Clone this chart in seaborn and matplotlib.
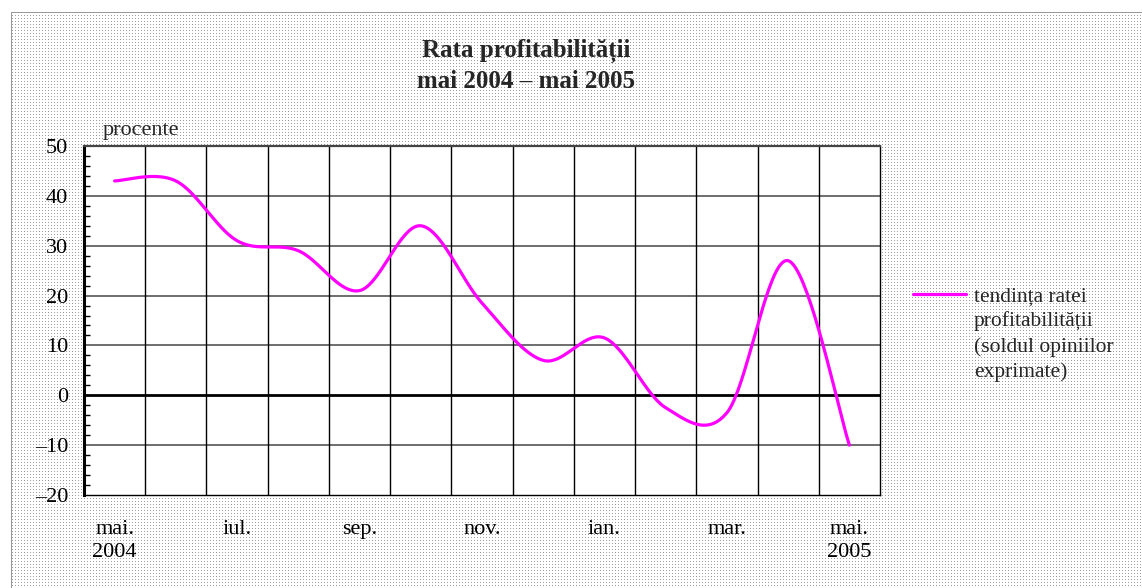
import numpy as np
import pandas as pd
import matplotlib
matplotlib.use("Agg")
import matplotlib.pyplot as plt
import seaborn as sns
from matplotlib.ticker import FixedLocator, MultipleLocator

# ---------------- data ----------------
months = ["mai.\n2004", "iun.", "iul.", "aug.", "sep.", "oct.", "nov.", "dec.",
          "ian.", "feb.", "mar.", "apr.", "mai.\n2005"]
values = [43, 43, 31, 29, 21, 34, 18.5, 7, 11.5, -2.5, -3.5, 27, -10]
shown_tick_idx = [0, 2, 4, 6, 8, 10, 12]
y_ticks = [50, 40, 30, 20, 10, 0, -10, -20]
y_tick_labels = ["50", "40", "30", "20", "10", "0", "\u201310", "\u201320"]
title = "Rata profitabilității\nmai 2004 \u2013 mai 2005"
unit_label = "procente"
legend_lines = ["tendința ratei", "profitabilității", "(soldul opiniilor", "exprimate)"]

# ---------------- style ----------------
sns.set_theme(style="white")
plt.rcParams["font.family"] = ["Liberation Serif", "DejaVu Serif"]

W, H, DPI = 1142, 588, 100
FS = 16
fig = plt.figure(figsize=(W / DPI, H / DPI), dpi=DPI)
fig.patch.set_facecolor("white")

# dotted background (like the original chart area fill)
bg = np.ones((H, W, 3))
yy, xx = np.mgrid[0:H, 0:W]
dots = (yy % 3 == 0) & (xx % 3 == 0) & (yy > 12) & (xx > 11)
bg[dots] = 0.62
bg[12, 11:] = 0.6
bg[12:, 11] = 0.6
fig.figimage(bg, xo=0, yo=0, origin="upper", zorder=-5)

ax = fig.add_axes([84 / W, 1 - 495 / H, (880 - 84) / W, (495 - 146) / H])
ax.set_facecolor("white")
ax.set_zorder(1)

# Excel-style smoothed line through data points (Catmull-Rom / Bezier)
def smooth(xv, yv, n=40):
    pts = np.column_stack([xv, yv]).astype(float)
    out = []
    for i in range(len(pts) - 1):
        p0 = pts[i - 1] if i > 0 else pts[i]
        p1, p2 = pts[i], pts[i + 1]
        p3 = pts[i + 2] if i + 2 < len(pts) else pts[i + 1]
        c1 = p1 + (p2 - p0) / 6
        c2 = p2 - (p3 - p1) / 6
        t = np.linspace(0, 1, n)[:, None]
        seg = (1 - t) ** 3 * p1 + 3 * (1 - t) ** 2 * t * c1 + 3 * (1 - t) * t ** 2 * c2 + t ** 3 * p2
        out.append(seg if i == 0 else seg[1:])
    return np.vstack(out)

xpos = np.arange(len(months))
curve = smooth(xpos, values)
df = pd.DataFrame({"x": curve[:, 0], "y": curve[:, 1]})

ax.set_xlim(-0.5, len(months) - 0.5)
ax.set_ylim(-20, 50)

# grid
for yv in y_ticks:
    if yv == 0:
        ax.axhline(0, color="black", lw=2.0, zorder=2)
    elif yv not in (50, -20):
        ax.axhline(yv, color="#555555", lw=1.2, zorder=1)
for xb in np.arange(0.5, len(months) - 0.5, 1):
    ax.axvline(xb, color="black", lw=1.0, zorder=1)

sns.lineplot(data=df, x="x", y="y", sort=False, color="#FF00FF", lw=2.3, ax=ax,
             zorder=3, legend=False)

# axes ticks
ax.xaxis.set_major_locator(FixedLocator(shown_tick_idx))
ax.set_xticklabels([months[i] for i in shown_tick_idx], fontsize=FS, linespacing=1.3)
ax.tick_params(axis="x", length=0, pad=18, colors="black")
ax.yaxis.set_major_locator(FixedLocator(y_ticks))
ax.set_yticklabels(y_tick_labels, fontsize=FS)
ax.yaxis.set_minor_locator(MultipleLocator(2))
ax.tick_params(axis="y", which="major", direction="out", length=6, width=1.2,
               color="#555555", pad=5.5, labelcolor="black")
ax.tick_params(axis="y", which="minor", direction="in", length=4, width=1, color="black", left=True)
ax.set_xlabel("")
ax.set_ylabel("")

for s in ["top", "right", "bottom"]:
    ax.spines[s].set_visible(True)
    ax.spines[s].set_color("black")
    ax.spines[s].set_linewidth(1.0)
ax.spines["top"].set_color("#444444")
ax.spines["top"].set_linewidth(1.6)
ax.spines["left"].set_color("black")
ax.spines["left"].set_linewidth(2.2)

# title and unit label
fig.text(526 / W, 1 - 66 / H, title, ha="center", va="center", fontsize=18,
         fontweight="bold", linespacing=1.35)
fig.text(103 / W, 1 - 130 / H, unit_label, ha="left", va="center", fontsize=FS)

# legend (handle + first line) and continuation lines
curve_line = ax.get_lines()[-1]
leg = fig.legend(handles=[curve_line], labels=[legend_lines[0]],
                 loc="center left", bbox_to_anchor=(913 / W, 1 - 297 / H),
                 bbox_transform=fig.transFigure, frameon=False, fontsize=15.5,
                 handlelength=2.45, handletextpad=0.4, borderpad=0, borderaxespad=0)
for i, line in enumerate(legend_lines[1:], start=1):
    fig.text(974 / W, 1 - (296 + 25.5 * i) / H, line, ha="left", va="center", fontsize=15.5)

fig.savefig("out.png", dpi=DPI)
